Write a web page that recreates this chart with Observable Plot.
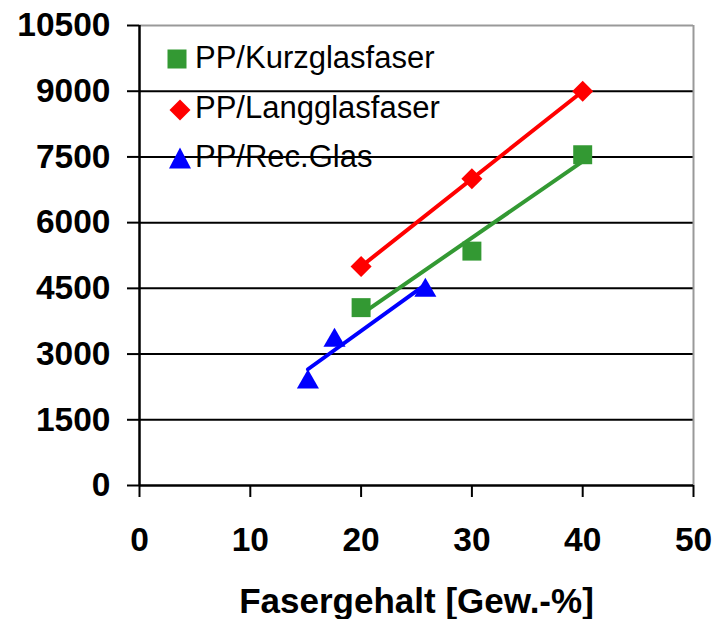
<!DOCTYPE html>
<html>
<head>
<meta charset="utf-8">
<script src="https://cdn.jsdelivr.net/npm/d3@7"></script>
<script src="https://cdn.jsdelivr.net/npm/@observablehq/plot@0.6"></script>
<style>
  html, body { margin: 0; padding: 0; background: #fff; }
  #wrap { position: relative; width: 728px; height: 619px; overflow: hidden; }
  #legend { position: absolute; left: 0; top: 0; pointer-events: none; }
</style>
</head>
<body>
<div id="wrap"></div>
<script>
// ---- data ----
const xTicks = [0, 10, 20, 30, 40, 50];
const yTicks = [0, 1500, 3000, 4500, 6000, 7500, 9000, 10500];
const xLabel = "Fasergehalt [Gew.-%]";

const seriesNames = ["PP/Kurzglasfaser", "PP/Langglasfaser", "PP/Rec.Glas"];
const seriesColors = ["#339933", "#ff0000", "#0000ff"];

const kurzX = [20, 30, 40];
const kurzY = [4060, 5350, 7550];
const langX = [20, 30, 40];
const langY = [5000, 7000, 9000];
const recX = [15.2, 17.6, 25.8];
const recY = [2430, 3380, 4520];

const toRows = (xs, ys) => xs.map((x, i) => ({x, y: ys[i]}));
const kurz = toRows(kurzX, kurzY);
const lang = toRows(langX, langY);
const rec = toRows(recX, recY);

const font = "'Liberation Sans', Arial, Helvetica, sans-serif";

const chart = Plot.plot({
  width: 728,
  height: 619,
  marginLeft: 139,
  marginRight: 35,
  marginTop: 25,
  marginBottom: 134,
  x: {domain: [0, 50]},
  y: {domain: [0, 10500]},
  style: {fontFamily: font, fontSize: "33.5px", fontWeight: "bold", color: "#000", background: "#fff"},
  marks: [
    Plot.ruleY(yTicks.filter(v => v > 0 && v < 10500), {stroke: "#000", strokeWidth: 2}),
    Plot.ruleY([10500], {stroke: "#999", strokeWidth: 2}),
    Plot.ruleX([50], {stroke: "#999", strokeWidth: 2}),
    Plot.axisY({ticks: yTicks, tickSize: 12, tickPadding: 17, tickFormat: d => String(d), strokeWidth: 2, label: null}),
    Plot.axisX({ticks: xTicks, tickSize: 12, tickPadding: 30, tickFormat: d => String(d), strokeWidth: 2, label: null}),
    Plot.ruleX([0], {stroke: "#000", strokeWidth: 2.5}),
    Plot.ruleY([0], {stroke: "#000", strokeWidth: 2.5}),
    Plot.linearRegressionY(kurz, {x: "x", y: "y", stroke: seriesColors[0], strokeWidth: 4, ci: 0}),
    Plot.linearRegressionY(lang, {x: "x", y: "y", stroke: seriesColors[1], strokeWidth: 4, ci: 0}),
    Plot.linearRegressionY(rec, {x: "x", y: "y", stroke: seriesColors[2], strokeWidth: 4, ci: 0}),
    Plot.dot(kurz, {x: "x", y: "y", symbol: "square", r: 10.7, fill: seriesColors[0], stroke: null}),
    Plot.dot(lang, {x: "x", y: "y", symbol: "square", r: 8.4, rotate: 45, fill: seriesColors[1], stroke: null}),
    Plot.dot(rec, {x: "x", y: "y", symbol: "triangle", r: 8.2, dy: 3, fill: seriesColors[2], stroke: null}),
    Plot.text([xLabel], {text: d => d, frameAnchor: "bottom", dy: 103, lineAnchor: "top", fontSize: 35, fontWeight: "bold"})
  ]
});

const wrap = document.getElementById("wrap");
wrap.appendChild(chart);

// ---- legend (overlay) ----
const legendRows = [
  {name: seriesNames[0], color: seriesColors[0], shape: "square", cx: 177, cy: 59, base: 68},
  {name: seriesNames[1], color: seriesColors[1], shape: "diamond", cx: 180, cy: 110, base: 118},
  {name: seriesNames[2], color: seriesColors[2], shape: "triangle", cx: 180, cy: 158, base: 167}
];
const svg = d3.select(wrap).append("svg")
  .attr("id", "legend").attr("width", 728).attr("height", 619);
for (const r of legendRows) {
  if (r.shape === "square") {
    svg.append("rect").attr("x", r.cx - 9.5).attr("y", r.cy - 9.5).attr("width", 19).attr("height", 19).attr("fill", r.color);
  } else if (r.shape === "diamond") {
    svg.append("path").attr("d", `M${r.cx},${r.cy - 10.5}L${r.cx + 10.5},${r.cy}L${r.cx},${r.cy + 10.5}L${r.cx - 10.5},${r.cy}Z`).attr("fill", r.color);
  } else {
    svg.append("path").attr("d", `M${r.cx},${r.cy - 10.5}L${r.cx + 11},${r.cy + 10.5}L${r.cx - 11},${r.cy + 10.5}Z`).attr("fill", r.color);
  }
  svg.append("text").attr("x", 195).attr("y", r.base)
    .attr("font-family", font).attr("font-size", 31).attr("fill", "#000")
    .text(r.name);
}
</script>
</body>
</html>
